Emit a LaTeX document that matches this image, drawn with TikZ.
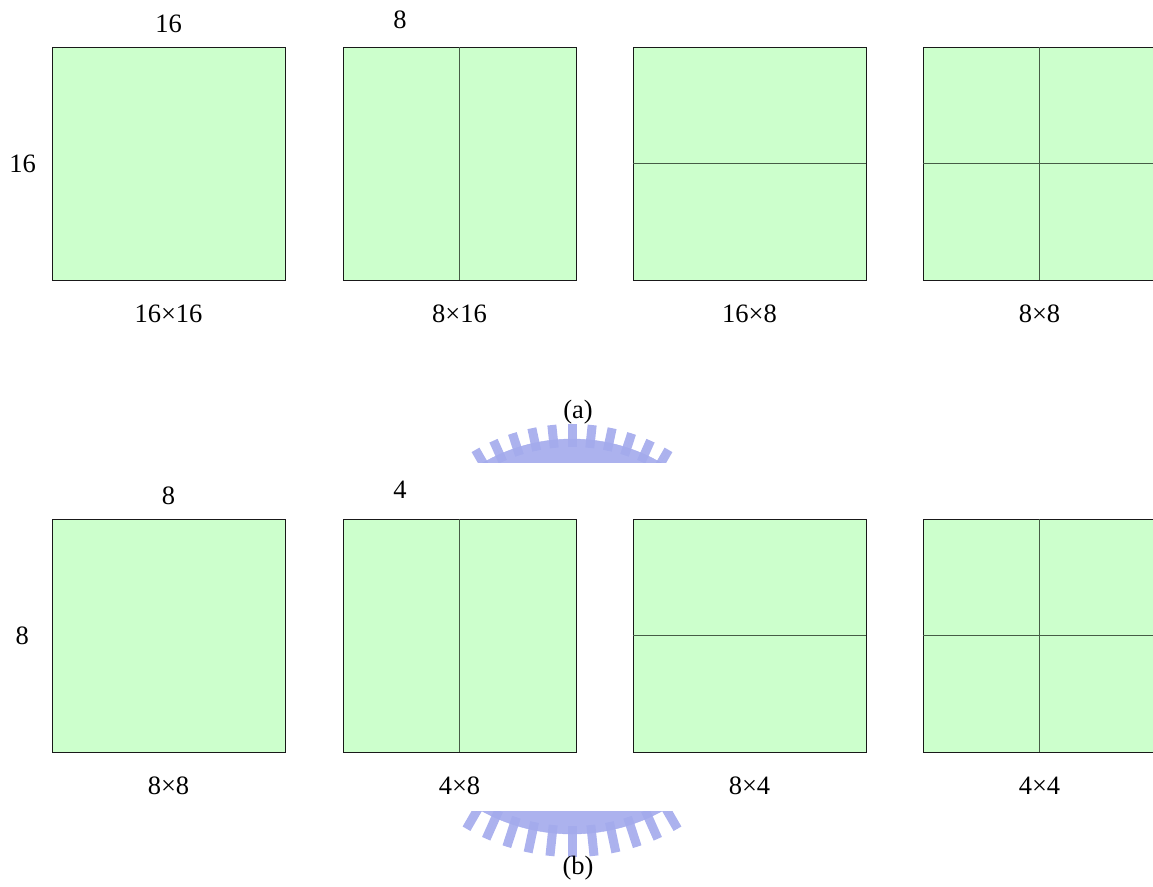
\documentclass[tikz,border=0pt]{standalone}
\usepackage{fontspec}
\setmainfont{Liberation Serif}
\usepackage{xcolor}
\usetikzlibrary{positioning,calc}
\definecolor{blkgreen}{RGB}{204,255,204}
\definecolor{divgray}{RGB}{70,92,70}
\definecolor{wmblue}{RGB}{163,170,236}

\begin{document}
\begin{tikzpicture}[x=1pt, y=-1pt,
  blk/.style={draw=black!90, fill=blkgreen, line width=1pt,
              minimum size=233pt, inner sep=0pt, outer sep=0pt},
  cut/.style={draw=divgray, line width=1.2pt},
  lbl/.style={font=\fontsize{26.5}{30}\selectfont, inner sep=0pt},
  wm/.style={draw=wmblue, fill=wmblue, opacity=0.9}]
  \useasboundingbox (0,0) rectangle (1153,886);
  % (a) 16x16 macroblock partitions
  \node[blk] (a1) at (168.5,163.5) {};
  \node[blk] (a2) at (459.5,163.5) {};
  \node[blk] (a3) at (749.5,163.5) {};
  \node[blk] (a4) at (1039.5,163.5) {};
  \draw[cut] (a2.north) -- (a2.south);
  \draw[cut] (a3.west) -- (a3.east);
  \draw[cut] (a4.north) -- (a4.south); \draw[cut] (a4.west) -- (a4.east);
  \node[lbl, above=14pt of a1] (a1w) {16};
  \node[lbl, left=16pt of a1] (a1h) {16};
  \node[lbl] (a2w) at (400,20) {8};
  \node[lbl, below=25pt of a1] (a1n) {16×16};
  \node[lbl, below=25pt of a2] (a2n) {8×16};
  \node[lbl, below=25pt of a3] (a3n) {16×8};
  \node[lbl, below=25pt of a4] (a4n) {8×8};
  % (b) 8x8 sub-macroblock partitions
  \node[blk] (b1) at (168.5,635.5) {};
  \node[blk] (b2) at (459.5,635.5) {};
  \node[blk] (b3) at (749.5,635.5) {};
  \node[blk] (b4) at (1039.5,635.5) {};
  \draw[cut] (b2.north) -- (b2.south);
  \draw[cut] (b3.west) -- (b3.east);
  \draw[cut] (b4.north) -- (b4.south); \draw[cut] (b4.west) -- (b4.east);
  \node[lbl, above=14pt of b1] (b1w) {8};
  \node[lbl, left=23pt of b1] (b1h) {8};
  \node[lbl] (b2w) at (400,490) {4};
  \node[lbl, below=25pt of b1] (b1n) {8×8};
  \node[lbl, below=25pt of b2] (b2n) {4×8};
  \node[lbl, below=25pt of b3] (b3n) {8×4};
  \node[lbl, below=25pt of b4] (b4n) {4×4};
  % watermark pieces
  \coordinate (wa) at (572,617);
  \coordinate (wb) at (572,646);
  \begin{scope}
    \clip (440,400) rectangle (700,462);
    \fill[wm] (wa) circle[radius=178];
    \foreach \a in {240,246,...,300}
      \draw[wm, line width=9pt] ($(wa)+(\a:170)$) -- ($(wa)+(\a:193)$);
  \end{scope}
  \begin{scope}
    \clip (430,811) rectangle (715,870);
    \fill[wm] (wb) circle[radius=188];
    \foreach \a in {60,66,...,120}
      \draw[wm, line width=9pt] ($(wb)+(\a:180)$) -- ($(wb)+(\a:211)$);
  \end{scope}
  % captions
  \node[lbl] (capa) at (578,412) {(a)};
  \node[lbl] (capb) at (578,868) {(b)};
\end{tikzpicture}
\end{document}
